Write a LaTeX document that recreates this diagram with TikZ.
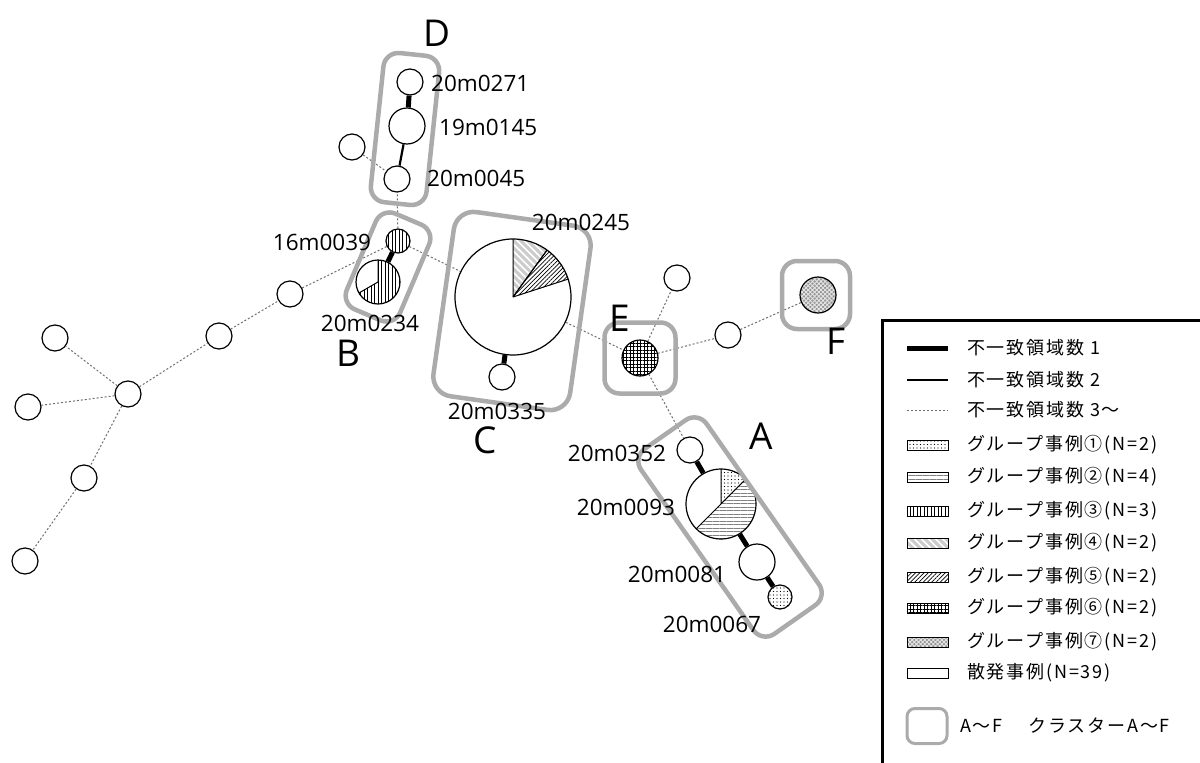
\documentclass[tikz,border=0pt]{standalone}
\usepackage{fontspec}
\setmainfont{Open Sans}
\newfontfamily\cjk{Noto Sans CJK JP}[LetterSpace=10]
\usetikzlibrary{patterns.meta}
\pgfdeclarelayer{bg}
\pgfdeclarelayer{back}
\pgfsetlayers{back,bg,main}
\definecolor{boxgray}{HTML}{ABABAB}
\definecolor{dotgray}{HTML}{707070}
\newcommand\pieslice[5]{%
  \fill[#5] (#1) -- ++({-(#3)}:#2) arc[start angle={-(#3)}, end angle={-(#4)}, radius=#2] -- cycle;
  \draw[line width=1pt] (#1) -- ++({-(#3)}:#2) (#1) -- ++({-(#4)}:#2);}
\begin{document}
\begin{tikzpicture}[x=1pt,y=-1pt,
  cnode/.style={circle, draw, line width=1.2pt, inner sep=0pt, fill=white},
  pnode/.style={circle, draw, line width=1.2pt, inner sep=0pt},
  eone/.style={line width=5pt},
  etwo/.style={line width=2.2pt},
  ethree/.style={dotgray, line width=1pt, dash pattern=on 2pt off 2pt},
  cbox/.style={draw=boxgray, line width=4.5pt, rounded corners=15pt, inner sep=0pt},
  lbl/.style={font=\fontsize{22.5}{22.5}\selectfont, inner sep=0pt},
  clet/.style={font=\fontsize{37}{37}\selectfont, inner sep=0pt},
  legtxt/.style={font=\cjk\fontsize{18}{18}\selectfont, inner sep=0pt, anchor=west},
  swatch/.style={draw, line width=0.8pt, minimum width=41pt, minimum height=10pt, inner sep=0pt},
  gone/.style={pattern={Dots[distance=3.5pt, radius=0.55pt]}, pattern color=black},
  gtwo/.style={preaction={fill=white}, pattern={Lines[angle=0, distance=3.5pt, line width=1pt]}, pattern color=gray},
  gthree/.style={pattern={Lines[angle=90, distance=3.5pt, line width=0.9pt]}, pattern color=black},
  gfour/.style={preaction={fill=gray!40}, pattern={Lines[angle=-45, distance=5pt, line width=1.6pt]}, pattern color=white},
  gfive/.style={pattern={Lines[angle=45, distance=3pt, line width=0.7pt]}, pattern color=black},
  gsix/.style={pattern={Hatch[angle=0, distance=3.5pt, line width=0.8pt]}, pattern color=black},
  gseven/.style={preaction={fill=gray!85}, pattern={Hatch[angle=45, distance=3pt, line width=0.9pt]}, pattern color=white!80!gray},
]
\useasboundingbox (0,0) rectangle (1200,763);
\begin{pgfonlayer}{back}
\fill[white] (0,0) rectangle (1200,763);
\end{pgfonlayer}

% ---------- pies ----------
\coordinate (pc) at (513,297);
\fill[white] (pc) circle[radius=58];
\pieslice{pc}{58}{54}{90}{gfour}
\pieslice{pc}{58}{18}{54}{gfive}
\node[pnode, minimum size=116pt] (C) at (pc) {};

\coordinate (pa) at (721,504);
\fill[white] (pa) circle[radius=35];
\pieslice{pa}{35}{45}{90}{gone}
\pieslice{pa}{35}{-135}{45}{gtwo}
\node[pnode, minimum size=70pt] (a2) at (pa) {};

\coordinate (pb) at (378,282);
\fill[white] (pb) circle[radius=22];
\pieslice{pb}{22}{-150}{90}{gthree}
\node[pnode, minimum size=44pt] (b2) at (pb) {};

% ---------- plain nodes ----------
\node[cnode, minimum size=26pt] (h) at (128,394) {};
\node[cnode, minimum size=26pt] (n1) at (55,338) {};
\node[cnode, minimum size=26pt] (n2) at (28,407) {};
\node[cnode, minimum size=26pt] (n3) at (84,478) {};
\node[cnode, minimum size=26pt] (n4) at (25,561) {};
\node[cnode, minimum size=26pt] (n5) at (219,336) {};
\node[cnode, minimum size=26pt] (n6) at (290,294) {};
\node[cnode, minimum size=24pt, gthree] (b1) at (398,241) {};
\node[cnode, minimum size=26pt] (d1) at (410,82) {};
\node[cnode, minimum size=36pt] (d2) at (407,126) {};
\node[cnode, minimum size=26pt] (d3) at (397,179) {};
\node[cnode, minimum size=26pt] (dx) at (352,147) {};
\node[cnode, minimum size=26pt] (c2) at (502,377) {};
\node[cnode, minimum size=36pt, gsix] (e) at (640,358) {};
\node[cnode, minimum size=26pt] (eu) at (677,278) {};
\node[cnode, minimum size=26pt] (em) at (728,335) {};
\node[cnode, minimum size=36pt, gseven] (f) at (818,295) {};
\node[cnode, minimum size=26pt] (a1) at (690,450) {};
\node[cnode, minimum size=36pt] (a3) at (757,562) {};
\node[cnode, minimum size=24pt, gone] (a4) at (780,597) {};

% ---------- edges ----------
\begin{pgfonlayer}{bg}
\draw[ethree] (h) -- (n1);
\draw[ethree] (h) -- (n2);
\draw[ethree] (h) -- (n3);
\draw[ethree] (n3) -- (n4);
\draw[ethree] (h) -- (n5);
\draw[ethree] (n5) -- (n6);
\draw[ethree] (n6) -- (b1);
\draw[eone] (b1) -- (b2);
\draw[ethree] (b1) -- (C);
\draw[ethree] (b1) -- (d3);
\draw[ethree] (dx) -- (d3);
\draw[etwo] (d3) -- (d2);
\draw[eone] (d2) -- (d1);
\draw[eone] (C) -- (c2);
\draw[ethree] (C) -- (e);
\draw[ethree] (e) -- (eu);
\draw[ethree] (e) -- (em);
\draw[ethree] (em) -- (f);
\draw[ethree] (e) -- (a1);
\draw[eone] (a1) -- (a2);
\draw[eone] (a2) -- (a3);
\draw[eone] (a3) -- (a4);
\end{pgfonlayer}

% ---------- cluster boxes ----------
\node[cbox, minimum width=56pt, minimum height=150pt, rotate=-6] (boxD) at (405,129) {};
\node[cbox, minimum width=58pt, minimum height=104pt, rotate=-23] (boxB) at (388,267) {};
\node[cbox, rounded corners=20pt, minimum width=138pt, minimum height=186pt, rotate=-8] (boxC) at (512,311) {};
\node[cbox, minimum size=71pt] (boxE) at (640,358) {};
\node[cbox, minimum size=68pt] (boxF) at (816,295) {};
\node[cbox, minimum width=80pt, minimum height=226pt, rotate=35] (boxA) at (730,527) {};

% ---------- labels ----------
\node[clet] (tD) at (437,33) {D};
\node[clet] (tB) at (348,353) {B};
\node[clet] (tC) at (485,440) {C};
\node[clet] (tE) at (620,318) {E};
\node[clet] (tF) at (836,341) {F};
\node[clet] (tA) at (761,436) {A};
\node[lbl, anchor=west] (l0271) at (431,83) {20m0271};
\node[lbl, anchor=west] (l0145) at (439,127) {19m0145};
\node[lbl, anchor=west] (l0045) at (427,178) {20m0045};
\node[lbl] (l0039) at (322,242) {16m0039};
\node[lbl] (l0234) at (370,323) {20m0234};
\node[lbl] (l0245) at (581,222) {20m0245};
\node[lbl] (l0335) at (497,411) {20m0335};
\node[lbl] (l0352) at (617,453) {20m0352};
\node[lbl] (l0093) at (626,507) {20m0093};
\node[lbl] (l0081) at (677,574) {20m0081};
\node[lbl] (l0067) at (712,624) {20m0067};

% ---------- legend ----------
\draw[line width=3pt] (882,790) -- (882,320) -- (1230,320) -- (1230,790);
\coordinate (k1a) at (907,348); \coordinate (k1b) at (948,348);
\coordinate (k2a) at (907,380); \coordinate (k2b) at (948,380);
\coordinate (k3a) at (907,410); \coordinate (k3b) at (948,410);
\draw[eone] (k1a) -- (k1b);
\draw[etwo] (k2a) -- (k2b);
\draw[ethree] (k3a) -- (k3b);
\node[legtxt] (t1) at (967,348) {不一致領域数 1};
\node[legtxt] (t2) at (967,380) {不一致領域数 2};
\node[legtxt] (t3) at (967,410) {不一致領域数 3～};
\node[swatch, gone] (s1) at (927.5,445) {};
\node[swatch, gtwo] (s2) at (927.5,477) {};
\node[swatch, gthree] (s3) at (927.5,511) {};
\node[swatch, gfour] (s4) at (927.5,543) {};
\node[swatch, gfive] (s5) at (927.5,577) {};
\node[swatch, gsix] (s6) at (927.5,608) {};
\node[swatch, gseven] (s7) at (927.5,642) {};
\node[swatch] (s8) at (927.5,673) {};
\node[legtxt] (t4) at (967,445) {グループ事例①(N=2)};
\node[legtxt] (t5) at (967,477) {グループ事例②(N=4)};
\node[legtxt] (t6) at (967,511) {グループ事例③(N=3)};
\node[legtxt] (t7) at (967,543) {グループ事例④(N=2)};
\node[legtxt] (t8) at (967,577) {グループ事例⑤(N=2)};
\node[legtxt] (t9) at (967,608) {グループ事例⑥(N=2)};
\node[legtxt] (t10) at (967,642) {グループ事例⑦(N=2)};
\node[legtxt] (t11) at (967,673) {散発事例(N=39)};
\node[cbox, line width=3pt, rounded corners=8pt, minimum width=40pt, minimum height=35pt] (s9) at (927,726) {};
\node[legtxt] (t12) at (960,726) {A～F\hspace{26pt}クラスターA～F};
\end{tikzpicture}
\end{document}
